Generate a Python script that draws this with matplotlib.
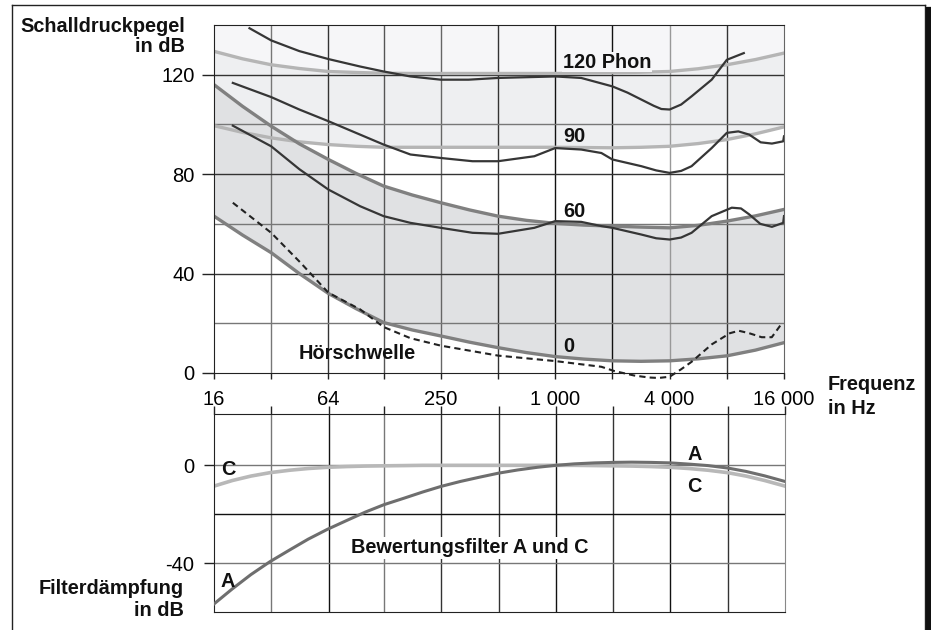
import numpy as np
import matplotlib
matplotlib.use('Agg')
import matplotlib.pyplot as plt
from matplotlib.lines import Line2D

plt.rc('font', family=['Liberation Sans', 'DejaVu Sans'])
plt.rc('axes', unicode_minus=False)

fs_tick = 14.5
fs_lab = 14.3

# octave grid for ticks / gridlines
octaves = [16, 32, 64, 125, 250, 500, 1000, 2000, 4000, 8000, 16000]
xtick_labels = ['16', '', '64', '', '250', '', '1 000', '', '4 000', '', '16 000']

# band boundaries (smooth curves), read at half-octave steps
f_band = [16, 22.6, 32, 45, 64, 90, 125, 177, 250, 354, 500, 707, 1000, 1414, 2000, 2828, 4000, 5657, 8000, 11314, 16000]
band_120 = [129.4, 126.4, 124.0, 122.5, 121.3, 120.9, 120.6, 120.5, 120.5, 120.5, 120.5, 120.5, 120.5, 120.6, 120.8, 121.0, 121.3, 122.4, 124.0, 126.1, 128.7]
band_90 = [99.5, 96.8, 94.6, 93.0, 91.9, 91.2, 90.8, 90.8, 90.8, 90.8, 90.8, 90.8, 90.8, 90.7, 90.6, 90.8, 91.2, 92.3, 93.9, 96.2, 99.0]
band_60 = [116.0, 107.3, 99.3, 92.2, 85.9, 80.2, 75.2, 71.6, 68.5, 65.6, 63.1, 61.4, 60.2, 59.5, 59.1, 58.7, 58.4, 59.4, 61.1, 63.2, 65.8]
band_0 = [63.1, 55.5, 48.4, 40.0, 32.0, 25.8, 20.3, 17.3, 14.9, 12.4, 10.2, 8.2, 6.6, 5.6, 4.9, 4.7, 4.9, 5.7, 6.9, 9.2, 12.2]

# measured equal loudness contours
f_120 = [24.6, 32, 45, 64, 94, 125, 173, 250, 350, 500, 1000, 1370, 1750, 2000, 2400, 2840, 3300, 3620, 4000, 4600, 5220, 6660, 8000, 9830]
l_120 = [138.7, 133.8, 129.5, 126.3, 123.3, 121.3, 119.3, 118.0, 118.0, 118.7, 119.3, 118.7, 116.5, 115.3, 112.8, 110.0, 107.5, 106.2, 106.0, 108.0, 111.3, 118.0, 126.0, 128.7]

f_90 = [20.1, 32, 45, 64, 94, 125, 173, 250, 367, 500, 776, 1000, 1370, 1750, 2000, 2840, 3400, 4000, 4600, 5220, 6660, 8000, 9200, 10500, 12060, 13820, 15840, 16000]
l_90 = [116.7, 111.0, 106.0, 101.3, 95.9, 91.9, 87.9, 86.5, 85.2, 85.2, 87.2, 90.5, 89.9, 88.5, 85.9, 83.2, 81.5, 80.5, 81.3, 83.2, 90.5, 96.6, 97.2, 95.9, 92.8, 92.3, 93.2, 95.2]

f_60 = [20.1, 32, 45, 64, 94, 125, 173, 250, 367, 500, 776, 1000, 1370, 1750, 2000, 2840, 3400, 4000, 4600, 5220, 6660, 8500, 9500, 10500, 12000, 13820, 15840, 16000]
l_60 = [99.5, 91.2, 82.0, 73.8, 67.1, 63.1, 60.4, 58.4, 56.4, 56.0, 58.4, 61.1, 60.8, 59.1, 58.4, 55.7, 54.2, 53.7, 54.5, 56.4, 63.1, 66.5, 66.2, 63.8, 60.0, 58.8, 60.4, 63.1]

f_thr = [20.1, 32, 45.5, 64, 94, 125, 173, 250, 500, 1000, 1750, 2044, 2600, 3100, 3500, 4000, 4600, 5220, 5900, 6660, 8300, 9250, 10500, 12200, 13800, 15600]
l_thr = [68.5, 56.4, 44.5, 32.3, 25.6, 18.5, 14.0, 11.0, 7.0, 4.8, 2.5, 0.8, -1.0, -1.8, -2.0, -1.5, 1.5, 4.5, 8.0, 11.5, 16.0, 17.0, 16.0, 14.4, 14.4, 20.0]

# weighting filters (third-octave readings)
f_filt = [16, 20, 25, 31.5, 40, 50, 63, 80, 100, 125, 160, 200, 250, 315, 400, 500, 630, 800, 1000,
          1250, 1600, 2000, 2500, 3150, 4000, 5000, 6300, 8000, 10000, 12500, 16000]
filt_A = [-56.7, -50.5, -44.7, -39.4, -34.6, -30.2, -26.2, -22.5, -19.1, -16.1, -13.4, -10.9, -8.6, -6.6, -4.8, -3.2, -1.9, -0.8, 0.0,
          0.6, 1.0, 1.2, 1.3, 1.2, 1.0, 0.5, -0.1, -1.1, -2.5, -4.3, -6.6]
filt_C = [-8.5, -6.2, -4.4, -3.0, -2.0, -1.3, -0.8, -0.5, -0.3, -0.2, -0.1, 0.0, 0.0, 0.0, 0.0, 0.0, 0.0, 0.0, 0.0,
          0.0, -0.1, -0.2, -0.3, -0.5, -0.8, -1.3, -2.0, -3.0, -4.4, -6.2, -8.5]

W, H = 931, 630
fig = plt.figure(figsize=(W / 100, H / 100), dpi=100)

def box(l, t, r, b):
  return [l / W, 1 - b / H, (r - l) / W, (b - t) / H]

# outer frame
fig.add_artist(Line2D([12 / W, 925 / W], [1 - 5 / H, 1 - 5 / H], color='#222', lw=1.0))
fig.add_artist(Line2D([12 / W, 12 / W], [1 - 5 / H, 0], color='#222', lw=1.0))
fig.add_artist(Line2D([925 / W, 925 / W], [1 - 5 / H, 0], color='#222', lw=1.0))
fig.add_artist(Line2D([928.5 / W, 928.5 / W], [1 - 10 / H, 0], color='#111', lw=4.5))

# ---------------- top panel ----------------
ax = fig.add_axes(box(214, 25, 784, 373))
ax.set_xscale('log', base=2)
ax.set_xlim(16, 16000)
ax.set_ylim(0, 140)

ax.fill_between(f_band, band_120, 140, color='#f6f6f8', lw=0, zorder=0)
ax.fill_between(f_band, band_90, band_120, color='#eeeff1', lw=0, zorder=0)
ax.fill_between(f_band, band_0, band_60, color='#e0e1e3', lw=0, zorder=0.5)

vcol = ['#777', '#333', '#555', '#666', '#333', '#111', '#111', '#999', '#333']
for f, c in zip(octaves[1:-1], vcol):
  ax.axvline(f, color=c, lw=1.0, zorder=1)
for y, c in zip([20, 40, 60, 80, 100, 120], ['#777', '#333', '#777', '#333', '#777', '#333']):
  ax.axhline(y, color=c, lw=1.0, zorder=1)

ax.plot(f_band, band_120, color='#b5b5b5', lw=2.4, zorder=2)
ax.plot(f_band, band_90, color='#b5b5b5', lw=2.4, zorder=2)
ax.plot(f_band, band_60, color='#808080', lw=2.4, zorder=2)
ax.plot(f_band, band_0, color='#808080', lw=2.4, zorder=2)

ax.plot(f_120, l_120, color='#363636', lw=1.6, zorder=3)
ax.plot(f_90, l_90, color='#363636', lw=1.6, zorder=3)
ax.plot(f_60, l_60, color='#363636', lw=1.6, zorder=3)
ax.plot(f_thr, l_thr, color='#222', lw=1.5, ls=(0, (3, 2)), zorder=3, clip_on=False)

for sp in ['top', 'left', 'bottom']:
  ax.spines[sp].set_color('#222')
ax.spines['right'].set_color('#666')
ax.set_xticks(octaves)
ax.set_xticklabels(xtick_labels)
ax.xaxis.set_minor_locator(matplotlib.ticker.NullLocator())
ax.tick_params(axis='x', length=4, width=1, color='#222', pad=8, labelsize=fs_tick)
ax.set_yticks([0, 40, 80, 120])
ax.tick_params(axis='y', length=9, width=1, color='#222', pad=5, labelsize=fs_tick)

kw = dict(fontsize=fs_lab, fontweight='bold', color='#111', va='center', ha='left', zorder=5)
ax.text(1100, 125, '120 Phon', bbox=dict(fc='#f6f6f8', ec='none', pad=0.5), **kw)
ax.text(1100, 95, '90', **kw)
ax.text(1100, 65, '60', **kw)
ax.text(1100, 10.5, '0', **kw)
ax.text(44.5, 8, 'Hörschwelle', **kw)

# ---------------- bottom panel ----------------
bx = fig.add_axes(box(214, 414, 785, 612))
bx.set_xscale('log', base=2)
bx.set_xlim(16, 16000)
bx.set_ylim(-60, 21)

vcol_b = ['#777', '#111', '#777', '#333', '#333', '#111', '#333', '#111', '#333']
for f, c in zip(octaves[1:-1], vcol_b):
  bx.axvline(f, color=c, lw=1.0, zorder=1)
for y, c in zip([-40, -20, 0], ['#777', '#111', '#777']):
  bx.axhline(y, color=c, lw=1.0, zorder=1)

bx.plot(f_filt, filt_C, color='#b8b8b8', lw=2.6, zorder=2)
bx.plot(f_filt, filt_A, color='#6e6e6e', lw=2.2, zorder=3)

for sp in ['top', 'left', 'bottom']:
  bx.spines[sp].set_color('#222')
bx.spines['right'].set_color('#888')
bx.xaxis.tick_top()
bx.set_xticks(octaves)
bx.set_xticklabels([])
bx.xaxis.set_minor_locator(matplotlib.ticker.NullLocator())
bx.tick_params(axis='x', length=6, width=1, color='#222')
bx.set_yticks([0, -40])
bx.tick_params(axis='y', length=7, width=1, color='#222', pad=7, labelsize=fs_tick)

bx.text(17.4, -1.8, 'C', **kw)
bx.text(17.4, -47.7, 'A', **kw)
bx.text(4900, 4.4, 'A', **kw)
bx.text(4900, -8.7, 'C', **kw)
bx.text(351, -33.7, 'Bewertungsfilter A und C', fontsize=fs_lab, fontweight='bold', color='#111',
        ha='center', va='center', zorder=5, bbox=dict(fc='white', ec='none', pad=1.0))

# axis titles
tk = dict(fontsize=fs_lab, fontweight='bold', color='#111', va='center')
fig.text(185 / W, 1 - 27 / H, 'Schalldruckpegel', ha='right', **tk)
fig.text(185 / W, 1 - 47 / H, 'in dB', ha='right', **tk)
fig.text(828 / W, 1 - 385 / H, 'Frequenz', ha='left', **tk)
fig.text(828 / W, 1 - 408 / H, 'in Hz', ha='left', **tk)
fig.text(184 / W, 1 - 588 / H, 'Filterdämpfung', ha='right', **tk)
fig.text(184 / W, 1 - 610 / H, 'in dB', ha='right', **tk)

fig.savefig('out.png', dpi=100)
